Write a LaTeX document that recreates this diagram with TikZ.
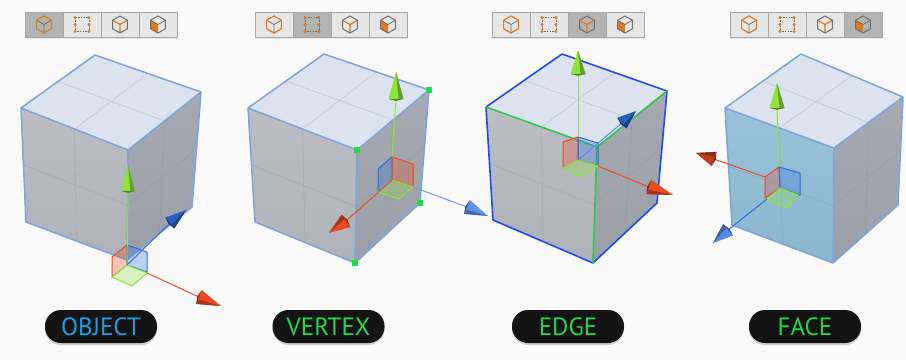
\documentclass[tikz,border=0pt]{standalone}
\usepackage{fontspec}
\setmainfont{PT Sans}
\usetikzlibrary{calc,shadows}

\definecolor{bg}{HTML}{FAFAFA}
\definecolor{topcol}{HTML}{DCE3EE}
\definecolor{leftcol}{HTML}{BCBEC4}
\definecolor{leftcolB}{HTML}{AEB1B8}
\definecolor{rightcol}{HTML}{A6AAB2}
\definecolor{rightcolB}{HTML}{9A9EA7}
\definecolor{facesel}{HTML}{97C2D8}
\definecolor{facselB}{HTML}{8AB7CE}
\definecolor{rimblue}{HTML}{7FA3DC}
\definecolor{selblue}{HTML}{1F4CF0}
\definecolor{selgreen}{HTML}{2EC84A}
\definecolor{vtxgreen}{HTML}{19E03A}
\definecolor{axgreen}{HTML}{8EE33C}
\definecolor{axred}{HTML}{EE4A22}
\definecolor{axblue}{HTML}{2F6FE0}
\definecolor{iconorange}{HTML}{E07A1A}
\definecolor{icongray}{HTML}{6E6E6E}
\definecolor{btn}{HTML}{E6E6E6}
\definecolor{btnon}{HTML}{B3B3B3}
\definecolor{btnrim}{HTML}{A6A6A6}
\definecolor{pillblue}{HTML}{1E9EE2}
\definecolor{pillgreen}{HTML}{22D84A}

\tikzset{
  gridline/.style={draw=black!45, opacity=.35, line width=.5pt},
  rim/.style={draw=rimblue, line width=1.5pt, line join=round},
  pill/.style={fill=black!92, rounded corners=16pt, minimum width=112pt,
    minimum height=33pt, inner sep=0pt,
    font=\fontsize{25}{25}\selectfont,
    drop shadow={opacity=.35, shadow xshift=0pt, shadow yshift=-2pt}},
  button/.style={fill=btn, draw=btnrim, line width=.6pt},
  buttonon/.style={fill=btnon, draw=btnrim, line width=.6pt},
  planefill/.style={fill=#1, fill opacity=.3, draw=#1, line width=1pt},
  axisline/.style={draw=#1, line width=1pt},
}

% faces and faint subdivision lines of one cube (coordinate prefix #1, front face fill #2, #3)
\newcommand\cubefaces[3]{%
  \fill[topcol] (#1T) -- (#1R) -- (#1F) -- (#1L) -- cycle;
  \shade[top color=#2, bottom color=#3] (#1L) -- (#1F) -- (#1BF) -- (#1BL) -- cycle;
  \shade[top color=rightcol, bottom color=rightcolB] (#1F) -- (#1R) -- (#1BR) -- (#1BF) -- cycle;
  \draw[gridline] ($(#1L)!.5!(#1F)$) -- ($(#1BL)!.5!(#1BF)$)
                  ($(#1L)!.5!(#1BL)$) -- ($(#1F)!.5!(#1BF)$)
                  ($(#1F)!.5!(#1R)$) -- ($(#1BF)!.5!(#1BR)$)
                  ($(#1F)!.5!(#1BF)$) -- ($(#1R)!.5!(#1BR)$)
                  ($(#1L)!.5!(#1T)$) -- ($(#1F)!.5!(#1R)$)
                  ($(#1T)!.5!(#1R)$) -- ($(#1L)!.5!(#1F)$);
}
\newcommand\cuberim[1]{%
  \draw[rim] (#1T) -- (#1R) -- (#1BR) -- (#1BF) -- (#1BL) -- (#1L) -- cycle
             (#1L) -- (#1F) -- (#1R) (#1F) -- (#1BF);
}
% cone head: tip #1, base centre #2, half width #3, colour #4
\newcommand\conehead[4]{%
  \fill[#4] ($(#2)!#3!90:(#1)$) -- (#1) -- ($(#2)!#3!-90:(#1)$) -- cycle;
  \fill[#4!70!black] ($(#2)!#3!-90:(#1)$) -- (#1) -- ($(#2)!.35*#3!-90:(#1)$) -- cycle;
  \fill[#4!55!black] ($(#2)!#3!90:(#1)$) -- ($(#2)!#3!-90:(#1)$) -- ($(#2)!1.8pt!180:(#1)$) -- cycle;
}
% toolbar icons, drawn around the local origin
\newcommand\hexpath{(0,-8.5) -- (7.4,-4.25) -- (7.4,4.25) -- (0,8.5) -- (-7.4,4.25) -- (-7.4,-4.25) -- cycle}
\newcommand\ypath{(-7.4,-4.25) -- (0,0) -- (7.4,-4.25) (0,0) -- (0,8.5)}

\begin{document}
\begin{tikzpicture}[x=1pt,y=-1pt]
\fill[bg] (0,0) rectangle (906,360);
\useasboundingbox (0,0) rectangle (906,360);

% ---------------- toolbars ----------------
\foreach \bx/\on in {25/1, 255/2, 492/3, 730/4}{
  \fill[black, opacity=.08] (\bx,13.5) rectangle ++(152,25);
  \foreach \i in {1,...,4}{
    \pgfmathsetmacro\xl{\bx+38*(\i-1)}
    \ifnum\i=\on
      \draw[buttonon] (\xl,12) rectangle ++(38,25);
    \else
      \draw[button] (\xl,12) rectangle ++(38,25);
    \fi
  }
  \begin{scope}[shift={(\bx+19,24.5)}]
    \draw[icongray, line width=.8pt] \ypath;
    \draw[iconorange, line width=1.2pt, line join=round] \hexpath;
  \end{scope}
  \begin{scope}[shift={(\bx+57,24.5)}]
    \draw[icongray, line width=.8pt, dash pattern=on 1.5pt off 1.2pt] (-7,-7) rectangle (7,7);
    \foreach \p in {(-7,-7),(7,-7),(-7,7),(7,7),(-7,0),(7,0)}
      \fill[iconorange] \p circle (1.7);
  \end{scope}
  \begin{scope}[shift={(\bx+95,24.5)}]
    \draw[iconorange, line width=1.2pt] \ypath;
    \draw[icongray, line width=1pt, line join=round] \hexpath;
  \end{scope}
  \begin{scope}[shift={(\bx+133,24.5)}]
    \fill[iconorange] (0,0) -- (-7.4,-4.25) -- (-7.4,4.25) -- (0,8.5) -- cycle;
    \draw[icongray, line width=.8pt] (-7.4,-4.25) -- (0,0) -- (7.4,-4.25);
    \draw[icongray, line width=1pt, line join=round] \hexpath;
  \end{scope}
}

% ---------------- cube corners ----------------
\coordinate (aT) at (95,55);   \coordinate (aL) at (21,108);  \coordinate (aF) at (128,150);
\coordinate (aR) at (201,92);  \coordinate (aBL) at (26,222); \coordinate (aBF) at (127,260);
\coordinate (aBR) at (192,207);
\coordinate (bT) at (324,54);  \coordinate (bL) at (248,108); \coordinate (bF) at (357,150);
\coordinate (bR) at (429,90);  \coordinate (bBL) at (255,222);\coordinate (bBF) at (355,263);
\coordinate (bBR) at (420,203);
\coordinate (cT) at (562,54);  \coordinate (cL) at (486,107); \coordinate (cF) at (597,147);
\coordinate (cR) at (667,91);  \coordinate (cBL) at (493,220);\coordinate (cBF) at (593,263);
\coordinate (cBR) at (657,203);
\coordinate (dT) at (801,54);  \coordinate (dL) at (725,108); \coordinate (dF) at (834,148);
\coordinate (dR) at (903,97);  \coordinate (dBL) at (732,225);\coordinate (dBF) at (833,263);
\coordinate (dBR) at (898,205);

% ---------------- OBJECT ----------------
\cubefaces{a}{leftcol}{leftcolB}
\cuberim{a}
\coordinate (gaO) at (127,265);
\draw[planefill=axred]   (112,257) -- (127,245) -- (127,265) -- (112,277) -- cycle;
\draw[planefill=axblue]  (127,245) -- (147,252) -- (147,272) -- (127,265) -- cycle;
\draw[planefill=axgreen] (112,277) -- (127,265) -- (147,273) -- (132,286) -- cycle;
\coordinate (gaUt) at (128,165); \coordinate (gaUb) at (128,191);
\coordinate (gaBt) at (186,210); \coordinate (gaBb) at (170,223);
\coordinate (gaRt) at (221,306); \coordinate (gaRb) at (199,297);
\draw[axisline=axgreen] (gaO) -- (gaUb);
\draw[axisline=axblue]  (gaO) -- (gaBb);
\draw[axisline=axred]   (147,273) -- (gaRb);
\conehead{gaUt}{gaUb}{7pt}{axgreen}
\conehead{gaBt}{gaBb}{7pt}{axblue!85!black}
\conehead{gaRt}{gaRb}{7.5pt}{axred}

% ---------------- VERTEX ----------------
\cubefaces{b}{leftcol}{leftcolB}
\cuberim{b}
\foreach \v in {bF,bR,bBR,bBF}
  \fill[vtxgreen] ($(\v)+(-2.6,-2.6)$) rectangle ($(\v)+(2.6,2.6)$);
\coordinate (gbO) at (392,180);
\draw[planefill=axblue]  (378,169) -- (392,157) -- (392,180) -- (378,192) -- cycle;
\draw[planefill=axred]   (392,157) -- (413,164) -- (413,187) -- (392,180) -- cycle;
\draw[planefill=axgreen] (378,192) -- (392,180) -- (413,187) -- (399,199) -- cycle;
\coordinate (gbUt) at (396,72);  \coordinate (gbUb) at (396,99);
\coordinate (gbRt) at (329,233); \coordinate (gbRb) at (346,221);
\coordinate (gbBt) at (488,216); \coordinate (gbBb) at (467,207);
\draw[axisline=axgreen] (392,157) -- (gbUb);
\draw[axisline=axred]   (gbO) -- (gbRb);
\draw[axisline=axblue!70!white]  (413,187) -- (gbBb);
\conehead{gbUt}{gbUb}{7.5pt}{axgreen}
\conehead{gbRt}{gbRb}{7.5pt}{axred}
\conehead{gbBt}{gbBb}{7.5pt}{axblue!75!white}

% ---------------- EDGE ----------------
\cubefaces{c}{leftcol}{leftcolB}
\draw[draw=selblue, line width=1.6pt, line join=round]
  (cL) -- (cT) -- (cR) -- (cBR) -- (cBF) (cL) -- (cBL) -- (cBF);
\draw[draw=selgreen, line width=1.6pt, line join=round]
  (cL) -- (cF) -- (cR) (cF) -- (cBF);
\coordinate (gcO) at (578,160);
\draw[planefill=axred]   (563,142) -- (578,137) -- (578,160) -- (563,168) -- cycle;
\draw[planefill=axblue]  (578,137) -- (598,143) -- (598,166) -- (578,160) -- cycle;
\draw[planefill=axgreen] (563,168) -- (578,160) -- (598,166) -- (583,177) -- cycle;
\coordinate (gcUt) at (578,50);  \coordinate (gcUb) at (578,74);
\coordinate (gcBt) at (636,111); \coordinate (gcBb) at (622,123);
\coordinate (gcRt) at (673,195); \coordinate (gcRb) at (649,187);
\draw[axisline=axgreen] (578,137) -- (gcUb);
\draw[axisline=axblue!80!white]  (gcO) -- (gcBb);
\draw[axisline=axred]   (598,166) -- (gcRb);
\conehead{gcUt}{gcUb}{7.5pt}{axgreen}
\conehead{gcBt}{gcBb}{7pt}{axblue!85!black}
\conehead{gcRt}{gcRb}{7.5pt}{axred}

% ---------------- FACE ----------------
\cubefaces{d}{facesel}{facselB}
\cuberim{d}
\coordinate (gdO) at (780,188);
\draw[planefill=axred]   (765,177) -- (779,167) -- (780,188) -- (765,198) -- cycle;
\draw[planefill=axblue]  (779,167) -- (800,173) -- (800,195) -- (780,188) -- cycle;
\draw[planefill=axgreen] (767,199) -- (780,188) -- (798,195) -- (787,208) -- cycle;
\coordinate (gdUt) at (777,83);  \coordinate (gdUb) at (777,108);
\coordinate (gdRt) at (696,153); \coordinate (gdRb) at (714,159);
\coordinate (gdBt) at (713,243); \coordinate (gdBb) at (728,230);
\draw[axisline=axgreen] (779,167) -- (gdUb);
\draw[axisline=axred]   (765,177) -- (gdRb);
\draw[axisline=axblue]  (767,199) -- (gdBb);
\conehead{gdUt}{gdUb}{7.5pt}{axgreen}
\conehead{gdRt}{gdRb}{7.5pt}{axred!80!black}
\conehead{gdBt}{gdBb}{7.5pt}{axblue!80!white}

% ---------------- labels ----------------
\node[pill, text=pillblue]  (lobj)  at (101,326.5) {OBJECT};
\node[pill, text=pillgreen] (lvtx)  at (328.5,326.5) {VERTEX};
\node[pill, text=pillgreen] (ledge) at (568,326.5) {EDGE};
\node[pill, text=pillgreen] (lface) at (805,326.5) {FACE};
\end{tikzpicture}
\end{document}
